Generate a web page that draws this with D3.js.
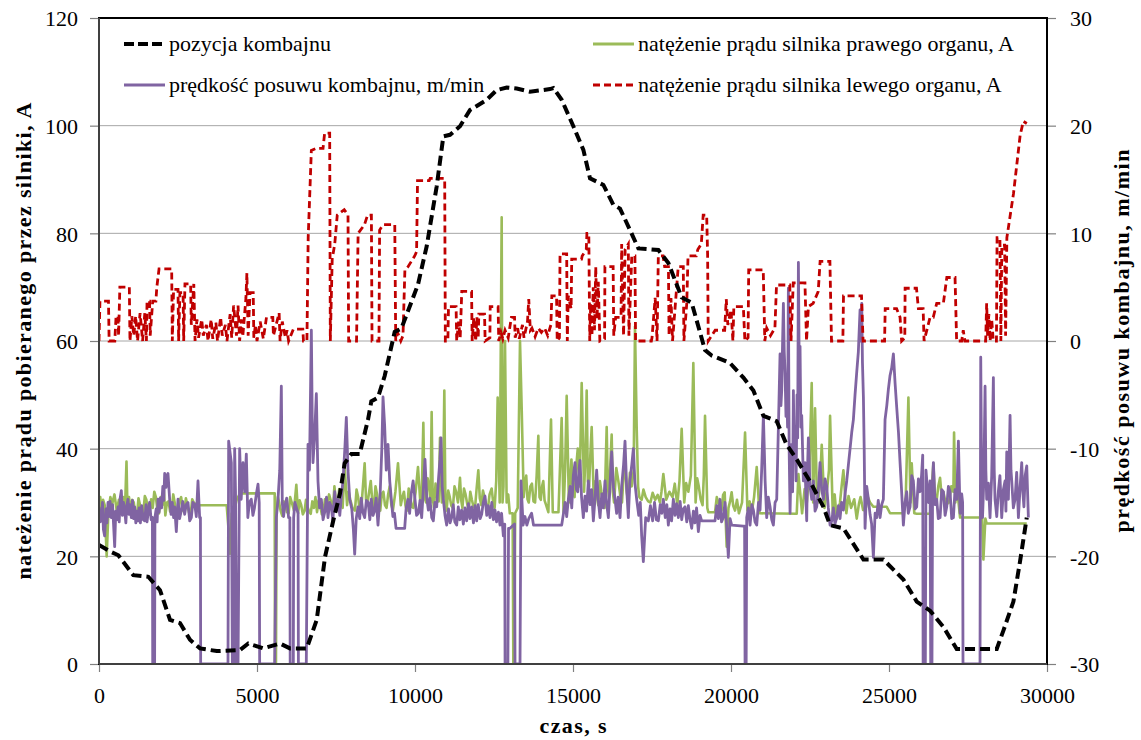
<!DOCTYPE html>
<html>
<head>
<meta charset="utf-8">
<script src="https://cdn.jsdelivr.net/npm/d3@7"></script>
<style>
  body { margin: 0; background: #fff; }
</style>
</head>
<body>
<svg id="chart" width="1141" height="740"></svg>
<script>
// ---- data (time in s) ----
const timeTicks = [0, 5000, 10000, 15000, 20000, 25000, 30000];
const currentTicks = [0, 20, 40, 60, 80, 100, 120];
const speedTicks = [-30, -20, -10, 0, 10, 20, 30];

const legendLabels = [
  "pozycja kombajnu",
  "prędkość posuwu kombajnu, m/min",
  "natężenie prądu silnika prawego organu, A",
  "natężenie prądu silnika lewego organu, A"
];

// pozycja kombajnu (left axis)
const shearerPosition = [
  [0,22.1],[348,20.9],[612,20.2],[1087,16.5],[1561,16.2],[1931,13.7],[2247,8.2],[2564,7.6],
  [2880,4.5],[3197,2.9],[3725,2.4],[4463,2.6],[4726,3.8],[5200,2.9],[5729,3.8],[6045,2.9],
  [6573,2.9],[6890,8.2],[7153,19.9],[7416,26.7],[7627,31.7],[7774,37.3],[7985,39],[8249,39],
  [8513,45.4],[8618,48.8],[8829,49.5],[9040,53.5],[9357,61.7],[9568,62.3],[10095,70.5],
  [10370,77.6],[10686,88.7],[10897,98],[11108,98.3],[11425,99.9],[11741,102.9],[12269,104.8],
  [12585,106.6],[12902,107.1],[13218,106.9],[13640,106.3],[14273,106.8],[14378,107],[14642,104.8],
  [15011,99.9],[15328,95.5],[15539,90.2],[15961,89],[16277,85.3],[16488,84.6],[16805,80.6],
  [17069,77.2],[17701,76.9],[18017,74.5],[18439,68.1],[18756,67.1],[19178,58.3],[19389,57.3],
  [19811,56.3],[19970,55.9],[20392,53.2],[20708,50.8],[21025,46.1],[21447,45.1],[21763,40.7],
  [22080,38],[22502,33.9],[22924,29.2],[23135,25.8],[23557,25.2],[24190,19.4],[24823,19.4],
  [25455,15.7],[25877,11.6],[26299,9.9],[26721,6.9],[27143,2.8],[28409,2.8],[28620,6.2],
  [28937,11.6],[29148,19.1],[29359,27.2]
];

// prędkość posuwu (right axis)
const feedSpeed = [
  [0,-15.4],[40,-16.8],[74,-16.7],[110,-15],[140,-17.5],[179,-18.1],[220,-15.6],[250,-16.9],
  [285,-15],[320,-16.3],[350,-14.9],[390,-16.4],[430,-15.2],[460,-17],[496,-19.1],[530,-15.8],
  [565,-16.6],[601,-15.4],[640,-16.8],[670,-14.6],[707,-13.9],[740,-16.2],[775,-15],[812,-15.7],
  [850,-16.9],[880,-15.3],[918,-14.7],[950,-16.1],[985,-15.2],[1023,-16.4],[1060,-14.8],
  [1095,-16.5],[1129,-15.4],[1165,-16.9],[1200,-15.8],[1234,-16.7],[1270,-15.5],[1310,-16.9],
  [1350,-15.3],[1400,-16.6],[1445,-16.7],[1490,-15.2],[1520,-16.8],[1550,-16.1],[1600,-15],
  [1650,-16.6],[1690,-16.4],[1700,-30],[1760,-30],[1770,-16.4],[1810,-15.6],[1840,-16.8],
  [1867,-14.7],[1900,-15.9],[1940,-14.6],[1980,-15.5],[2020,-13.5],[2050,-14.8],[2078,-12.3],
  [2120,-13.6],[2150,-12.5],[2183,-12.3],[2236,-14.7],[2280,-16.1],[2320,-15],[2360,-16.4],
  [2394,-15.4],[2447,-17.7],[2500,-14.7],[2550,-16.5],[2600,-15.8],[2650,-14.9],[2711,-16.1],
  [2760,-15.2],[2816,-15],[2870,-16.7],[2922,-16.4],[2970,-15],[3030,-15.2],[3080,-16.3],
  [3133,-13],[3185,-16.4],[3210,-16.4],[3217,-30],[4082,-30],[4103,-9.3],[4188,-11.3],
  [4220,-30],[4260,-30],[4293,-10],[4320,-14],[4346,-30],[4400,-30],[4451,-10],[4500,-14.7],
  [4557,-11.3],[4610,-14],[4662,-10.5],[4710,-16.4],[4760,-15],[4820,-14.7],[4870,-16.2],
  [4920,-15.5],[4980,-14.2],[5032,-13.3],[5070,-15],[5084,-30],[5559,-30],[5612,-16.4],
  [5665,-14.7],[5720,-12],[5770,-4.2],[5800,-15],[5840,-16.3],[5876,-15.4],[5940,-14.6],
  [6000,-16.4],[6040,-16.4],[6050,-30],[6150,-30],[6160,-16.4],[6200,-15],[6250,-15.5],
  [6300,-16],[6310,-30],[6560,-30],[6614,-9.6],[6660,-12],[6720,1],[6750,-8],[6772,-11.3],
  [6820,-9],[6878,-4.9],[6930,-13],[6980,-15.5],[7036,-14.7],[7090,-16.6],[7150,-15.8],
  [7200,-14.5],[7247,-16.4],[7300,-15],[7352,-15.4],[7400,-16.7],[7460,-14],[7510,-15.8],
  [7563,-14.7],[7620,-16.2],[7670,-14.4],[7721,-13],[7780,-10],[7827,-7.1],[7880,-12],
  [7933,-14.7],[8000,-15.6],[8050,-17.5],[8091,-19.8],[8140,-16.5],[8196,-15.4],[8250,-16.5],
  [8300,-14.6],[8350,-15.9],[8407,-16.4],[8460,-14.8],[8520,-15],[8570,-16.6],[8618,-14.7],
  [8670,-16.2],[8720,-15.8],[8770,-14.6],[8829,-17.1],[8900,-14],[8950,-10],[8988,-5.2],
  [9040,-7.9],[9090,-12],[9146,-9.6],[9200,-13],[9251,-14.7],[9300,-16.3],[9350,-16],
  [9400,-17.4],[9462,-17.4],[9673,-17.4],[9720,-15.5],[9779,-14.7],[9830,-16],[9880,-14.2],
  [9940,-13],[10000,-14.7],[10050,-16.2],[10105,-16],[10160,-14.8],[10211,-16.4],[10260,-14],
  [10316,-11],[10370,-14.5],[10422,-15.7],[10470,-14.6],[10530,-16.4],[10580,-16.7],
  [10630,-15],[10686,-15.4],[10740,-13],[10790,-11],[10823,-9],[10860,-13.5],[10897,-14.7],
  [10950,-16.2],[11002,-17.1],[11060,-15.6],[11110,-16.9],[11160,-16.4],[11210,-15.2],
  [11260,-16.8],[11319,-17.1],[11370,-15.4],[11420,-16.6],[11477,-15.7],[11530,-17],
  [11580,-15.5],[11635,-16.7],[11690,-15.1],[11740,-16.5],[11793,-15.4],[11850,-16.9],
  [11900,-15.3],[11952,-16.7],[12000,-15.2],[12060,-16.5],[12110,-16.1],[12160,-15],
  [12215,-14.4],[12270,-16.2],[12320,-15.3],[12374,-16.4],[12430,-15],[12480,-16.6],
  [12532,-15.7],[12580,-16.8],[12640,-15.9],[12690,-17.1],[12740,-16],[12796,-18.1],
  [12840,-17],[12850,-30],[12940,-30],[12960,-17.4],[13006,-17.4],[13150,-17],[13165,-30],
  [13323,-30],[13355,-13],[13420,-17.1],[13480,-16.3],[13540,-17.1],[13600,-16.5],[13690,-16],
  [13750,-17.1],[14642,-17.1],[14694,-16.1],[14750,-15],[14800,-16.3],[14853,-14.7],
  [14910,-13.5],[14960,-15.5],[15010,-12.5],[15064,-11.3],[15110,-13.8],[15150,-14],
  [15190,-12],[15222,-11.1],[15270,-14.5],[15327,-16.4],[15380,-14.4],[15430,-15.8],
  [15485,-13],[15540,-15.2],[15590,-13.8],[15644,-16.7],[15700,-14.5],[15749,-12],
  [15800,-14.8],[15855,-16.4],[15910,-14.2],[15960,-15.5],[16013,-13],[16060,-15],
  [16119,-16.4],[16170,-13.5],[16224,-10.3],[16280,-13.6],[16330,-14.7],[16380,-16],
  [16430,-14.5],[16488,-16.4],[16540,-13.5],[16600,-11.5],[16646,-9.3],[16700,-13.8],
  [16751,-16.4],[16800,-13],[16860,-11.5],[16910,-10],[16960,-13.2],[17015,-14.7],
  [17080,-16.2],[17130,-15],[17173,-18.1],[17226,-20.5],[17300,-16.4],[17384,-16.7],
  [17450,-15.3],[17520,-16.7],[17580,-15],[17640,-16.6],[17701,-16.7],[17760,-15.2],
  [17810,-16],[17859,-14.7],[17920,-16.4],[17970,-15.2],[18017,-17.1],[18070,-15.6],
  [18120,-16.7],[18175,-14.7],[18230,-16.2],[18280,-15.1],[18334,-16.4],[18390,-14.9],
  [18440,-16.6],[18490,-15.6],[18545,-15.4],[18600,-16.8],[18650,-15.3],[18700,-16.5],
  [18756,-17.4],[18810,-15.8],[18860,-16.9],[18910,-15.5],[18967,-17.7],[19020,-16.2],
  [19072,-16.7],[19494,-16.7],[19550,-15.3],[19600,-16.5],[19652,-14.7],[19700,-16.8],
  [19757,-16.4],[19810,-15],[19860,-17],[19916,-20.1],[19970,-16.5],[20022,-17.1],
  [20392,-17.2],[20430,-17.2],[20445,-30],[20480,-30],[20497,-16.4],[20550,-15.5],
  [20603,-17.1],[20660,-15.2],[20708,-15.7],[20760,-16.8],[20814,-17.1],[20870,-15],
  [20919,-15.7],[20970,-12],[21025,-6.9],[21080,-13],[21130,-16.4],[21180,-14.5],
  [21236,-15.4],[21290,-16.6],[21341,-17.1],[21395,-15],[21447,-14.7],[21500,-8],
  [21552,-1.2],[21580,-6],[21605,-4.6],[21630,-0.5],[21658,3.5],[21685,-1],[21710,-2.9],
  [21740,-7],[21763,-3.9],[21790,-8],[21816,4.9],[21840,-10],[21869,-16],[21895,-12],
  [21922,-9.6],[21950,-14],[21974,-4.6],[22000,-10],[22027,-7.9],[22060,-13],[22090,-5],
  [22110,-9],[22133,7.3],[22160,-3],[22185,-0.5],[22210,-8],[22238,-6.9],[22290,-13],
  [22344,-11.3],[22370,-14.5],[22396,-16.7],[22420,-12],[22449,-9],[22500,-13.5],
  [22555,-14.7],[22607,-13],[22660,-15.8],[22713,-15.4],[22765,-13.8],[22818,-11.3],
  [22870,-13.8],[22924,-14.7],[22975,-12.8],[23029,-13.5],[23080,-15.5],[23135,-17.1],
  [23190,-16.7],[23240,-15.5],[23290,-17],[23346,-16.4],[23400,-15.3],[23450,-16.5],
  [23500,-15],[23557,-15.7],[23610,-14.2],[23662,-13],[23715,-11.5],[23768,-10],[23820,-8.5],
  [23873,-7.3],[23925,-5],[23979,-2.9],[24030,-1],[24084,2.9],[24110,0],[24137,3.5],
  [24160,-2],[24190,-5.2],[24215,-10],[24242,-17.4],[24295,-13.5],[24348,-14.7],[24400,-16.1],
  [24450,-17],[24506,-20.1],[24560,-16],[24611,-16.4],[24660,-14.8],[24717,-16.4],
  [24770,-15.2],[24822,-14.7],[24875,-7.3],[24930,-6],[24980,-4.5],[25033,-3.2],[25085,-2.5],
  [25139,-1.2],[25192,-3.9],[25245,-6.2],[25300,-8.5],[25350,-11.3],[25400,-14],[25455,-17.1],
  [25510,-15],[25560,-14],[25610,-16],[25666,-15.4],[25720,-12.5],[25771,-13],[25825,-15.6],
  [25877,-15.4],[25930,-12.8],[25982,-14],[26030,-12.5],[26067,-10.6],[26080,-30],[26150,-30],
  [26170,-12],[26250,-15],[26300,-13],[26320,-30],[26360,-30],[26380,-13],[26405,-11.3],
  [26460,-15.2],[26510,-14.7],[26560,-16.5],[26616,-16.4],[26670,-13.8],[26721,-14],
  [26775,-16.2],[26827,-15.4],[26880,-13.5],[26932,-14],[26985,-16.5],[27038,-16.4],
  [27090,-13.8],[27143,-14.7],[27196,-9.3],[27249,-16],[27300,-14.2],[27330,-15],[27342,-30],
  [27880,-30],[27903,-1.5],[27930,-12],[27960,-16.4],[28000,-13],[28040,-4.2],[28065,-12],
  [28092,-14.7],[28145,-13.2],[28197,-16.4],[28250,-12.5],[28303,-3.4],[28330,-12],
  [28355,-14.7],[28410,-16.3],[28460,-14],[28510,-12.5],[28567,-16.4],[28620,-13.8],
  [28672,-13],[28700,-15.8],[28726,-10.3],[28750,-14.5],[28778,-14.7],[28805,-11],
  [28831,-6.9],[28860,-12],[28884,-13],[28935,-15.5],[28990,-14.7],[29040,-12.2],
  [29095,-16.4],[29150,-13.5],[29200,-11.3],[29235,-14],[29270,-15.4],[29310,-12.5],
  [29359,-11.6],[29411,-16.4]
];

// natężenie prądu silnika prawego organu (left axis)
const rightMotorCurrent = [
  [0,29.2],[40,31],[80,28],[130,30.5],[180,29.5],[243,20],[300,28.6],[360,31],[420,29.8],
  [490,31.5],[560,28.5],[630,30.5],[700,29],[760,31],[820,28.2],[870,37.6],[900,29],
  [950,31],[1000,28],[1050,30.5],[1100,30],[1150,27.8],[1200,27.5],[1250,30.8],[1300,29.5],
  [1350,27.6],[1400,28],[1450,31.2],[1500,30.5],[1550,28.2],[1600,27.8],[1650,30.6],
  [1700,29],[1750,32],[1800,31],[1850,28.5],[1900,28],[1950,31],[2000,29.5],[2050,32.5],
  [2100,27.6],[2150,30],[2200,30.2],[2250,28.3],[2300,28.4],[2350,31.5],[2400,29.8],
  [2450,28],[2500,27.5],[2550,30.4],[2600,31],[2650,28.6],[2700,28.2],[2750,30.8],[2800,29.5],
  [2850,28.1],[2900,27.8],[2950,30.6],[3000,30],[3090,29.5],[4040,29.5],[4100,25],
  [4146,20.5],[4200,28],[4251,20.5],[4300,29],[4357,30.5],[4462,31.7],[5560,31.7],[5570,0],
  [5600,0],[5620,28],[5660,31],[5700,30],[5750,28.4],[5800,27.5],[5850,30.2],[5900,29.5],
  [5950,28.2],[6000,28],[6050,31],[6100,30],[6170,28.5],[6245,33.3],[6300,28],[6350,30.4],
  [6400,29.5],[6450,27.8],[6508,28.5],[6550,30.5],[6600,29.2],[6650,28.3],[6700,27.9],
  [6750,30.2],[6800,29],[6850,31],[6900,28.2],[6950,30.4],[7000,29.5],[7050,27.8],[7100,28],
  [7150,30.6],[7200,29],[7280,31.5],[7352,30],[7400,28.6],[7450,33],[7500,30],[7550,29],
  [7600,32.5],[7650,31],[7710,29],[7774,36.6],[7850,29.5],[7900,32],[7950,30.6],[8020,29],
  [8100,28.5],[8150,32.4],[8200,31],[8250,28.6],[8302,29],[8407,37.3],[8450,30.5],[8500,30],
  [8550,32],[8600,34],[8650,30],[8700,29],[8750,33],[8800,31.5],[8850,29.2],[8900,28.5],
  [8950,31.6],[9000,32],[9050,29.5],[9100,29],[9150,31.5],[9200,33],[9250,29.6],[9300,28.5],
  [9380,32],[9462,37.3],[9550,29.5],[9600,31],[9650,32],[9700,29.4],[9750,28.5],[9800,32.6],
  [9850,31],[9900,29.2],[9950,29],[10020,32],[10095,36.6],[10180,29],[10220,33],[10264,44.8],
  [10300,31],[10350,30],[10400,34.5],[10450,33],[10490,30],[10527,46.8],[10560,31],[10600,29],
  [10650,33.5],[10700,31],[10750,30.2],[10791,42],[10850,30],[10890,33],[10928,50.8],
  [10960,31],[11000,28.5],[11050,32.2],[11100,31],[11150,29.4],[11200,29],[11250,33],
  [11300,32],[11360,30],[11424,34.6],[11460,30.5],[11500,29],[11550,32.6],[11600,31.5],
  [11650,29.8],[11700,28.5],[11750,32],[11800,30.5],[11850,29.2],[11900,29],[11950,32.6],
  [12004,36],[12050,30.8],[12100,29.5],[12150,32.2],[12200,31],[12250,29.6],[12300,28.5],
  [12360,31.5],[12426,32.6],[12470,30.2],[12520,29],[12570,34],[12616,49.5],[12680,30],
  [12743,83],[12770,30],[12800,33],[12848,60],[12900,30],[12950,31.5],[13000,28],[13090,28],
  [13112,0],[13140,0],[13170,28],[13250,29],[13323,60],[13376,47.5],[13440,31],[13480,33.6],
  [13520,35],[13560,30.6],[13600,30],[13650,33],[13700,33.5],[13750,30.2],[13800,30],
  [13850,35],[13903,42.4],[13940,31],[13980,30.5],[14020,33],[14060,34],[14100,30.4],
  [14150,29.5],[14220,28.2],[14304,45.4],[14360,28.2],[14540,28.2],[14641,45.7],[14700,28.2],
  [14750,36],[14800,49.8],[14870,30],[14910,34],[14950,38],[15000,32],[15050,31],[15100,36.5],
  [15150,40],[15210,33],[15275,52.2],[15350,32],[15390,38],[15433,50.8],[15470,34],
  [15510,33],[15550,39],[15591,44],[15660,30],[15719,34],[15760,31],[15800,29.5],[15850,34],
  [15900,32],[15950,30.5],[16000,29],[16030,36],[16066,44],[16100,33],[16140,31],[16180,37],
  [16224,42.6],[16260,32],[16300,30],[16370,36.4],[16435,34],[16490,31.5],[16550,30],
  [16600,35],[16650,37],[16700,32],[16750,30],[16800,35.5],[16857,33],[16920,36],[16962,62.7],
  [17015,44],[17060,33],[17100,31],[17173,30.5],[17230,32.4],[17300,31],[17380,30.2],
  [17450,30],[17520,31.8],[17600,30.5],[17680,31.4],[17750,30],[17800,32],[17859,35.3],
  [17950,30.5],[18050,32],[18150,31],[18220,33.5],[18300,29.5],[18370,34],[18439,43.7],
  [18520,30],[18580,33.6],[18650,32],[18730,35],[18808,55.9],[18880,30],[18930,34.5],
  [18980,33],[19040,30.6],[19100,29.5],[19140,35],[19178,46.1],[19250,29],[19283,28.2],
  [19494,28.2],[19550,31],[19600,30],[19650,29.2],[19700,28.5],[19750,31.4],[19800,31.9],
  [19863,21.8],[19920,29],[19970,30.2],[20020,31.9],[20070,29.4],[20127,28.5],[20190,30.5],
  [20250,28],[20350,30],[20445,43],[20520,28.5],[20590,30.2],[20650,28],[20730,31],
  [20814,36.6],[20900,28],[22080,27.9],[22133,35.3],[22250,28],[22330,32.5],[22400,30],
  [22480,36],[22554,52.2],[22600,30],[22660,47.5],[22710,33],[22760,30],[22820,34],
  [22871,40.7],[22960,29],[23050,33],[23100,36],[23135,46.1],[23220,28],[23280,31.5],
  [23346,27],[23450,30],[23500,33],[23557,36],[23650,28],[23720,31.2],[23800,29],[23900,30.6],
  [23979,27],[24050,29.8],[24100,31],[24180,28.6],[24250,28.5],[24330,31],[24400,30],
  [24506,29.2],[24928,29.2],[25033,28],[25455,28],[25530,31],[25614,49.5],[25680,30],
  [25719,37.3],[25800,28],[25877,27.9],[26299,27.9],[26405,37.3],[26450,31],[26500,30],
  [26560,33],[26616,34.6],[26670,30.8],[26721,32],[26800,29.6],[26900,30],[26970,33],
  [27038,32],[27059,43],[27100,30],[27143,33.3],[27249,27.2],[27950,27.2],[27987,19.4],
  [28050,27],[28092,26.1],[29359,26.1]
];

// natężenie prądu silnika lewego organu (right axis)
const leftMotorCurrent = [
  [0,0],[30,3.7],[300,3.7],[320,0],[500,0],[540,2.3],[600,2.3],[620,0.5],[660,5],[960,5],
  [980,0],[1040,2.3],[1100,0.5],[1160,2.3],[1220,0],[1300,2.6],[1380,0],[1450,2.6],[1500,0],
  [1520,3.7],[1600,3.7],[1620,0.5],[1700,3.7],[1800,3.7],[1830,5],[1900,6.7],[2300,6.7],
  [2320,0],[2360,4.8],[2500,4.8],[2520,0],[2560,4.5],[2660,4.5],[2680,0],[2720,5.3],[2900,5.3],
  [2920,1.5],[3000,5.3],[3040,0],[3100,2],[3150,0.3],[3250,2],[3300,0.5],[3400,1.5],[3450,0],
  [3550,2],[3600,0.2],[3700,1.7],[3750,0],[3850,2.2],[3900,0.5],[4000,1.5],[4050,0],[4150,2.5],
  [4200,0.3],[4260,3.3],[4350,0.5],[4400,3.3],[4450,0],[4500,2],[4550,0.4],[4650,4],[4680,6.3],
  [4720,0.5],[4780,4.5],[4880,4.5],[4900,0.3],[4950,1.5],[5000,0],[5100,1.8],[5200,0.2],
  [5300,2.2],[5500,2.2],[5520,0.5],[5700,2.6],[5730,0],[5800,1.8],[5900,0.3],[5950,1],[6000,0],
  [6150,1.1],[6450,1.1],[6470,0],[6580,0],[6620,9.6],[6720,17.7],[6880,17.9],[7090,17.9],
  [7140,19.3],[7300,19.3],[7320,0],[7380,7.6],[7460,9],[7540,11.7],[7760,12.2],[7880,11.7],
  [7900,0],[8150,0],[8200,10],[8400,10.8],[8500,11.7],[8620,11.7],[8640,0],[8860,0],[8880,10.3],
  [8990,10.8],[9360,10.8],[9390,0],[9450,0.8],[9550,0],[9620,0.5],[9680,6.6],[9780,6.9],
  [9990,7.9],[10050,8.3],[10080,14.9],[10450,14.9],[10480,15.1],[10940,15.1],[10960,0],
  [11040,0],[11060,3.2],[11300,3.2],[11320,0],[11380,1.8],[11430,0.3],[11480,4.6],[11790,4.6],
  [11810,0],[11860,2.2],[11920,0],[11960,2.2],[12000,0.3],[12020,2.5],[12200,2.5],[12220,0],
  [12370,0.3],[12380,3.2],[12630,3.2],[12650,0],[12720,0.8],[12780,0.2],[12850,1],[12950,0.3],
  [13050,2.2],[13150,2.2],[13170,0.3],[13250,1.2],[13300,0.2],[13400,1.5],[13450,0.3],
  [13560,1.8],[13600,3.9],[13650,1],[13700,1.2],[13800,0.4],[13900,1.2],[14000,0.8],[14100,1.2],
  [14200,0.5],[14300,1.5],[14330,4.2],[14480,4.2],[14500,0],[14570,0.3],[14590,8.1],[14800,8.1],
  [14820,0],[14850,4.2],[14940,3],[14960,7.6],[15270,7.6],[15290,7.9],[15420,8.5],[15440,10],
  [15500,10],[15530,0],[15560,3.5],[15600,0.5],[15640,5],[15680,1],[15720,6.9],[15760,2],
  [15800,5.5],[15850,0],[16000,0.2],[16010,6.9],[16270,6.9],[16290,0.5],[16350,2.2],[16520,2.2],
  [16540,9],[16600,0.5],[16650,8.5],[16750,9],[16770,0.5],[16860,7.9],[16960,7.9],[16980,0],
  [17480,0],[17500,0.3],[17600,4],[17660,0],[17700,7.9],[17850,7.9],[17900,6.9],[18020,6.9],
  [18040,0.5],[18100,4],[18150,0],[18330,6.9],[18490,6.9],[18510,0],[18600,3.5],[18640,7.9],
  [18900,7.9],[18950,8.5],[19060,9],[19120,11.7],[19230,11.7],[19260,8],[19280,0],[19500,1],
  [19800,1],[19850,3.9],[19900,1.5],[20000,2.9],[20060,0],[20090,3.2],[20390,3.2],[20440,0],
  [20540,0.3],[20560,6.6],[21020,6.6],[21070,0],[21130,1.2],[21250,0.5],[21390,1.2],[21440,5.2],
  [21860,5.2],[21900,0],[21970,5.4],[22340,5.4],[22390,0],[22450,3.2],[22600,3.5],[22760,4.6],
  [22820,7.4],[23130,7.4],[23180,0],[23540,0],[23560,4.2],[24130,4.2],[24180,0],[24860,0],
  [24880,3],[25240,3],[25350,2.2],[25400,0],[25500,0.3],[25510,4.9],[25870,4.9],[25930,3],
  [26080,3],[26110,0],[26300,2.2],[26400,2.2],[26510,3.5],[26720,3.5],[26830,5.9],[27090,5.9],
  [27140,0],[27300,0],[27350,1],[27400,0],[28060,0],[28090,3.5],[28120,0.5],[28160,2.5],
  [28200,0],[28250,2],[28300,0],[28400,0],[28420,9.6],[28510,9.6],[28540,0],[28570,8.9],
  [28660,8.9],[28690,0.5],[28730,9.6],[28940,13.7],[29150,19.1],[29250,20.4],[29360,20.2]
];

// ---- layout ----
const svg = d3.select("#chart");
const plot = { left: 99, right: 1047, top: 18, bottom: 664 };
const fontFamily = "'Liberation Serif', 'Times New Roman', serif";
const fontSize = 22;

const x = d3.scaleLinear().domain([0, 30000]).range([plot.left, plot.right]);
const yLeft = d3.scaleLinear().domain([0, 120]).range([plot.bottom, plot.top]);
const yRight = d3.scaleLinear().domain([-30, 30]).range([plot.bottom, plot.top]);

svg.append("rect").attr("width", 1141).attr("height", 740).attr("fill", "#fff");

svg.append("defs").append("clipPath").attr("id", "plotClip")
  .append("rect")
  .attr("x", plot.left).attr("y", plot.top)
  .attr("width", plot.right - plot.left).attr("height", plot.bottom - plot.top);

// gridlines
svg.append("g").selectAll("line")
  .data(currentTicks.filter(d => d > 0 && d < 120))
  .enter().append("line")
  .attr("x1", plot.left).attr("x2", plot.right)
  .attr("y1", d => yLeft(d)).attr("y2", d => yLeft(d))
  .attr("stroke", "#a6a6a6").attr("stroke-width", 1);

// axes
function styleAxis(g) {
  g.attr("font-family", null).attr("font-size", null);
  g.select(".domain").remove();
  g.selectAll(".tick line").attr("stroke", "#808080").attr("stroke-width", 1.2);
  g.selectAll(".tick text").style("font-family", fontFamily).style("font-size", fontSize + "px")
    .attr("fill", "#000");
}
const plainNumber = d => String(d);

svg.append("g")
  .attr("transform", "translate(" + plot.left + ",0)")
  .call(d3.axisLeft(yLeft).tickValues(currentTicks).tickSize(9).tickPadding(12).tickFormat(plainNumber))
  .call(styleAxis)
  .selectAll(".tick text").attr("dy", "0.35em");

svg.append("g")
  .attr("transform", "translate(" + plot.right + ",0)")
  .call(d3.axisRight(yRight).tickValues(speedTicks).tickSize(9).tickPadding(14).tickFormat(plainNumber))
  .call(styleAxis)
  .selectAll(".tick text").attr("dy", "0.35em");

svg.append("g")
  .attr("transform", "translate(0," + plot.bottom + ")")
  .call(d3.axisBottom(x).tickValues(timeTicks).tickSize(8).tickPadding(15).tickFormat(plainNumber))
  .call(styleAxis);

// series
const lineLeft = d3.line().x(d => x(d[0])).y(d => yLeft(d[1]));
const lineRight = d3.line().x(d => x(d[0])).y(d => yRight(d[1]));

const series = svg.append("g").attr("clip-path", "url(#plotClip)").attr("fill", "none");

series.append("path").datum(rightMotorCurrent)
  .attr("d", lineLeft).attr("stroke", "#9bbb59").attr("stroke-width", 2.6)
  .attr("stroke-linejoin", "round");

series.append("path").datum(feedSpeed)
  .attr("d", lineRight).attr("stroke", "#8064a2").attr("stroke-width", 2.8)
  .attr("stroke-linejoin", "round");

series.append("path").datum(leftMotorCurrent)
  .attr("d", lineRight).attr("stroke", "#c00000").attr("stroke-width", 2.8)
  .attr("stroke-dasharray", "7,4");

series.append("path").datum(shearerPosition)
  .attr("d", lineLeft).attr("stroke", "#000").attr("stroke-width", 4)
  .attr("stroke-dasharray", "10,5");

// plot frame and axis lines
svg.append("rect")
  .attr("x", plot.left).attr("y", plot.top)
  .attr("width", plot.right - plot.left).attr("height", plot.bottom - plot.top)
  .attr("fill", "none").attr("stroke", "#000").attr("stroke-width", 2);
svg.append("line").attr("x1", plot.left).attr("x2", plot.left)
  .attr("y1", plot.top).attr("y2", plot.bottom).attr("stroke", "#404040").attr("stroke-width", 2);
svg.append("line").attr("x1", plot.left).attr("x2", plot.right)
  .attr("y1", plot.bottom).attr("y2", plot.bottom).attr("stroke", "#404040").attr("stroke-width", 2);

// legend
const legendItems = [
  { label: legendLabels[0], x: 124, y: 44, color: "#000", width: 4, dash: "10,4" },
  { label: legendLabels[1], x: 124, y: 85, color: "#8064a2", width: 2.8, dash: null },
  { label: legendLabels[2], x: 593, y: 44, color: "#9bbb59", width: 2.8, dash: null },
  { label: legendLabels[3], x: 593, y: 85, color: "#c00000", width: 2.8, dash: "7,4" }
];
const legend = svg.append("g").selectAll("g").data(legendItems).enter().append("g");
legend.append("line")
  .attr("x1", d => d.x).attr("x2", d => d.x + 41)
  .attr("y1", d => d.y).attr("y2", d => d.y)
  .attr("stroke", d => d.color).attr("stroke-width", d => d.width)
  .attr("stroke-dasharray", d => d.dash);
legend.append("text")
  .attr("x", d => d.x + 45).attr("y", d => d.y + 7)
  .style("font-family", fontFamily).style("font-size", fontSize + "px").attr("fill", "#000")
  .text(d => d.label);

// axis titles
svg.append("text")
  .attr("x", 573).attr("y", 733).attr("text-anchor", "middle")
  .attr("textLength", 67).attr("lengthAdjust", "spacing")
  .style("font-family", fontFamily).style("font-size", fontSize + "px").style("font-weight", "bold")
  .text("czas, s");

svg.append("text")
  .attr("transform", "translate(31,341) rotate(-90)")
  .attr("text-anchor", "middle")
  .attr("textLength", 477).attr("lengthAdjust", "spacing")
  .style("font-family", fontFamily).style("font-size", fontSize + "px").style("font-weight", "bold")
  .text("nateżenie prądu pobieranego przez silniki, A");

svg.append("text")
  .attr("transform", "translate(1129,341) rotate(-90)")
  .attr("text-anchor", "middle")
  .attr("textLength", 383).attr("lengthAdjust", "spacing")
  .style("font-family", fontFamily).style("font-size", fontSize + "px").style("font-weight", "bold")
  .text("prędkość posuwu kombajnu, m/min");
</script>
</body>
</html>
